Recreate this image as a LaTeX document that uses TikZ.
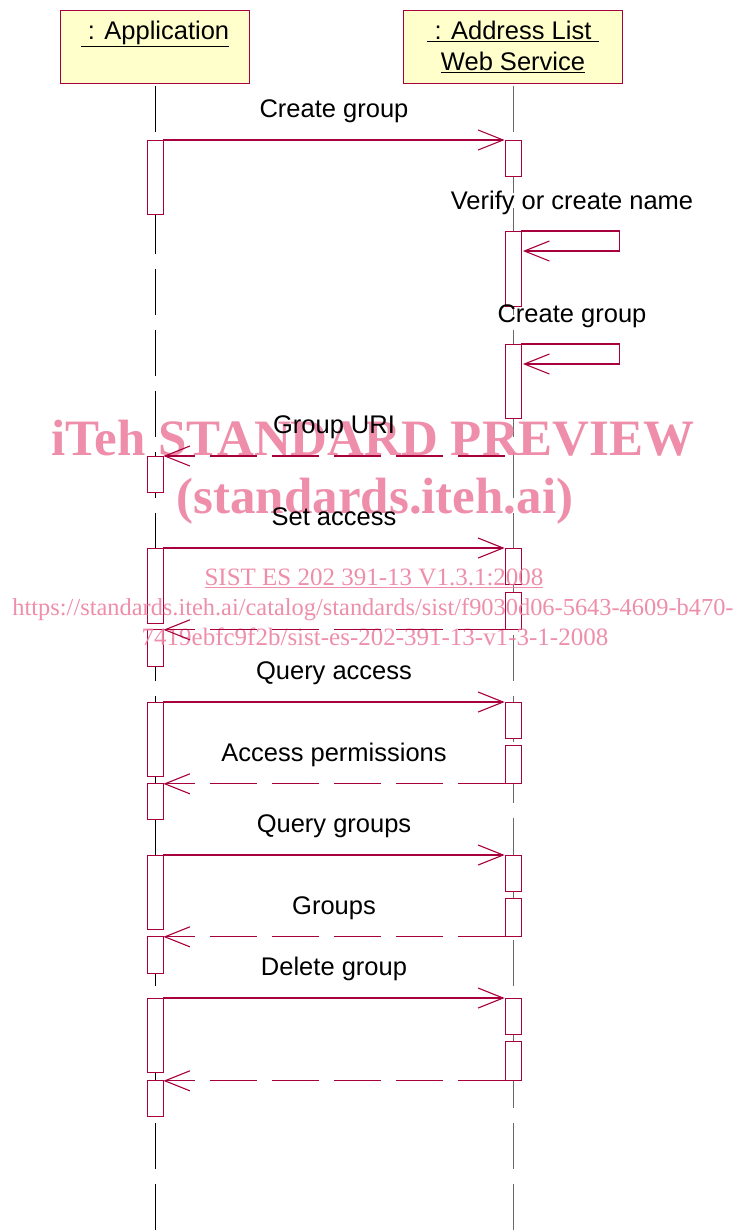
\documentclass[tikz,border=0pt]{standalone}
\usepackage{fontspec}
\setmainfont{Liberation Sans}
\newfontfamily\wmfont{Liberation Serif}
\usetikzlibrary{arrows.meta}
\definecolor{umlred}{RGB}{168,0,60}
\definecolor{umlhead}{RGB}{255,255,204}
\definecolor{wmpink}{RGB}{236,130,162}
\definecolor{lifegray}{RGB}{105,105,105}

\begin{document}
\begin{tikzpicture}[x=1pt,y=-1pt]
    \tikzset{Head/.style={%
            shape=rectangle,%
            draw=umlred,%
            fill=umlhead,%
            line width=0.8pt,%
            align=center,%
            inner sep=0pt,%
            minimum height=73pt,%
            font=\fontsize{25.5}{31}\selectfont,%
        }}
    \tikzset{Act/.style={%
            shape=rectangle,%
            draw=umlred,%
            fill=white,%
            line width=0.8pt,%
            inner sep=0pt,%
            minimum width=16pt,%
            anchor=north,%
        }}
    \tikzset{Msg/.style={draw=umlred, line width=1.1pt, -{Straight Barb[length=25pt,width=20pt]}}}
    \tikzset{Ret/.style={Msg, dash pattern=on 47pt off 15pt}}
    \tikzset{Lbl/.style={font=\fontsize{25.5}{31}\selectfont, text height=19pt, text depth=6pt, inner sep=2pt}}
    \tikzset{Life/.style={line width=0.9pt, dash pattern=on 46pt off 15pt}}
    \tikzset{Mark/.style={text=wmpink, opacity=0.9, anchor=base, inner sep=0pt}}

    \useasboundingbox (0,0) rectangle (736,1232);
    \coordinate (bot) at (0,1232);

    % objects
    \node[Head, minimum width=189pt] (app) at (155,46.5) {\underline{\ : Application}\\ \phantom{\underline{Web Service}}};
    \node[Head, minimum width=219pt] (svc) at (513,46.5) {\underline{\ : Address List\ }\\ \underline{Web Service}};

    % lifelines
    \draw[Life, black] ([yshift=-3pt]app.south) -- (app.south |- bot);
    \draw[Life, lifegray] ([yshift=-3pt]svc.south) -- (svc.south |- bot);

    % activations of the application
    \node[Act, minimum height=74pt] (a1) at (155,140) {};
    \node[Act, minimum height=36pt] (a2) at (155,456) {};
    \node[Act, minimum height=75pt] (a3) at (155,548) {};
    \node[Act, minimum height=37pt] (a4) at (155,629) {};
    \node[Act, minimum height=74pt] (a5) at (155,702) {};
    \node[Act, minimum height=36pt] (a6) at (155,783) {};
    \node[Act, minimum height=74pt] (a7) at (155,855) {};
    \node[Act, minimum height=37pt] (a8) at (155,936) {};
    \node[Act, minimum height=74pt] (a9) at (155,998) {};
    \node[Act, minimum height=36pt] (a10) at (155,1080) {};

    % activations of the web service
    \node[Act, minimum height=36pt] (s1) at (513,140) {};
    \node[Act, minimum height=75pt] (s2) at (513,231) {};
    \node[Act, minimum height=74pt] (s3) at (513,344) {};
    \node[Act, minimum height=36pt] (s4) at (513,548) {};
    \node[Act, minimum height=37pt] (s5) at (513,592) {};
    \node[Act, minimum height=36pt] (s6) at (513,702) {};
    \node[Act, minimum height=38pt] (s7) at (513,745) {};
    \node[Act, minimum height=36pt] (s8) at (513,855) {};
    \node[Act, minimum height=38pt] (s9) at (513,898) {};
    \node[Act, minimum height=36pt] (s10) at (513,998) {};
    \node[Act, minimum height=39pt] (s11) at (513,1041) {};

    % watermark
    \node[Mark, font=\wmfont\bfseries\fontsize{51}{51}\selectfont] (wm1) at (373,455) {iTeh STANDARD PREVIEW};
    \node[Mark, font=\wmfont\bfseries\fontsize{51}{51}\selectfont] (wm2) at (375,513) {(standards.iteh.ai)};
    \node[Mark, font=\wmfont\fontsize{25}{25}\selectfont] (wm3) at (374,585) {\underline{SIST ES 202 391-13 V1.3.1:2008}};
    \node[Mark, font=\wmfont\fontsize{24.4}{25}\selectfont] (wm4) at (373,615) {https://standards.iteh.ai/catalog/standards/sist/f9030d06-5643-4609-b470-};
    \node[Mark, font=\wmfont\fontsize{25}{25}\selectfont] (wm5) at (375,645) {7419ebfc9f2b/sist-es-202-391-13-v1-3-1-2008};

    % messages
    \path (a1.north east) edge[Msg] node[Lbl, above=14pt] {Create group} (s1.north west);

    \draw[Msg] (s2.north east) -- ++(98pt,0pt) -- ++(0pt,-20pt) -- ([xshift=1.5pt,yshift=-20pt]s2.north east);
    \node[Lbl, anchor=base] (self1) at (572,209) {Verify or create name};
    \draw[Msg] (s3.north east) -- ++(98pt,0pt) -- ++(0pt,-20pt) -- ([xshift=1.5pt,yshift=-20pt]s3.north east);
    \node[Lbl, anchor=base] (self2) at (572,322) {Create group};

    \coordinate (uri) at (s3.west |- a2.north);
    \path (uri) edge[Ret] node[Lbl, above=14pt] {Group URI} (a2.north east);

    \path (a3.north east) edge[Msg] node[Lbl, above=14pt] {Set access} (s4.north west);
    \path (s5.south west) edge[Ret] (s5.south west -| a4.north east);

    \path (a5.north east) edge[Msg] node[Lbl, above=14pt] {Query access} (s6.north west);
    \path (s7.south west) edge[Ret] node[Lbl, above=14pt] {Access permissions} (s7.south west -| a6.north east);

    \path (a7.north east) edge[Msg] node[Lbl, above=14pt] {Query groups} (s8.north west);
    \path (s9.south west) edge[Ret] node[Lbl, above=14pt] {Groups} (s9.south west -| a8.north east);

    \path (a9.north east) edge[Msg] node[Lbl, above=14pt] {Delete group} (s10.north west);
    \path (s11.south west) edge[Ret] (s11.south west -| a10.north east);
\end{tikzpicture}
\end{document}
